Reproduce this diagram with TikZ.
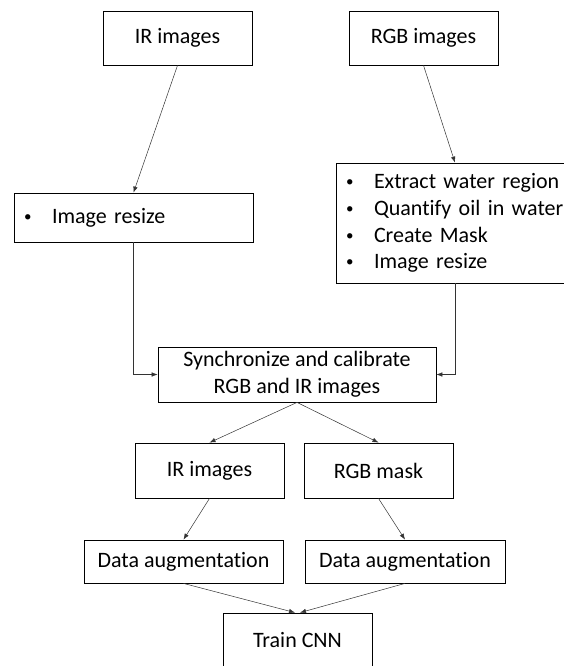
\documentclass[tikz,border=0pt]{standalone}
\usepackage{fontspec}
\setmainfont{Carlito}[Ligatures=NoCommon]
\usetikzlibrary{arrows.meta}
\newcommand{\bitem}[1]{\makebox[30pt][l]{\hspace{2pt}\raisebox{1.8pt}{\fontsize{15}{15}\selectfont\textbullet}}#1}
\begin{document}
\begin{tikzpicture}[x=1pt,y=-1pt,
  box/.style={draw, line width=.8pt, inner sep=0pt, align=center,
    font=\fontsize{22}{26.7}\selectfont},
  list/.style={box, inner xsep=8pt, align=left},
  arr/.style={-{Latex[length=6pt,width=4.5pt]}, line width=.5pt, black!80}]
\clip (0,0) rectangle (564,666);
% inputs
\node[box, minimum width=149pt, minimum height=54pt] (IRin) at (177.5,38){IR images};
\node[box, minimum width=149pt, minimum height=54pt] (RGBin) at (423.5,38){RGB images};
% preprocessing
\node[list, text width=223pt, minimum height=49pt] (resize) at (133.5,217.5){\bitem{Image resize}};
\node[list, text width=222pt, minimum height=120pt] (prep) at (455,223){\bitem{Extract water region}\\
  \bitem{Quantify oil in water}\\ \bitem{Create Mask}\\ \bitem{Image resize}};
\node[box, minimum width=278pt, minimum height=55pt] (sync) at (297,374.5){Synchronize and calibrate\\RGB and IR images};
% outputs
\node[box, minimum width=149pt, minimum height=55pt] (IRout) at (209.5,470.5){IR images};
\node[box, minimum width=149pt, minimum height=55pt] (mask) at (378.5,470.5){RGB mask};
\node[box, minimum width=199pt, minimum height=43pt] (aug1) at (183.5,561.5){Data augmentation};
\node[box, minimum width=200pt, minimum height=43pt] (aug2) at (405,561.5){Data augmentation};
\node[box, minimum width=149pt, minimum height=54pt] (cnn) at (297.5,640){Train CNN};
% connectors
\draw[arr] (IRin.south) -- (resize.north);
\draw[arr] (RGBin.south) -- (prep.north);
\draw[arr] (resize.south) |- (sync.west);
\draw[arr] (prep.south) |- (sync.east);
\draw[arr] (sync.south) -- (IRout.north);
\draw[arr] (sync.south) -- (mask.north);
\draw[arr] (IRout.south) -- (aug1.north);
\draw[arr] (mask.south) -- (aug2.north);
\draw[arr] (aug1.south) -- ([xshift=-2.5pt]cnn.north);
\draw[arr] (aug2.south) -- ([xshift=2.5pt]cnn.north);
\end{tikzpicture}
\end{document}
